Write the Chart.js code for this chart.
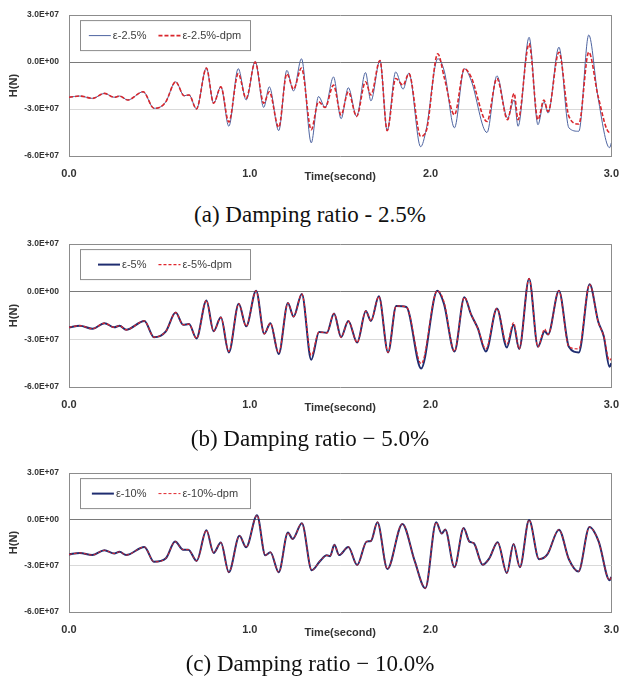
<!DOCTYPE html>
<html>
<head>
<meta charset="utf-8">
<script src="https://cdn.jsdelivr.net/npm/chart.js@4"></script>
<style>
  html, body { margin: 0; padding: 0; background: #fff; }
  body { width: 620px; height: 680px; position: relative; overflow: hidden; }
  .box { position: absolute; left: 0; width: 630px; }
  .cap { position: absolute; left: 0; width: 620px; text-align: center;
         font-family: "Liberation Serif", "Times New Roman", serif; font-size: 23px; color: #111; line-height: 1; }
</style>
</head>
<body>
<div class="box" style="top:0px;height:200px"><canvas id="c1"></canvas></div>
<div class="cap" style="top:203px">(a) Damping ratio - 2.5%</div>
<div class="box" style="top:229px;height:202px"><canvas id="c2"></canvas></div>
<div class="cap" style="top:427px">(b) Damping ratio − 5.0%</div>
<div class="box" style="top:458px;height:198px"><canvas id="c3"></canvas></div>
<div class="cap" style="top:652px">(c) Damping ratio − 10.0%</div>
<script>
// values in 1E+07 N
var yTicks = [-6, -3, 0, 3];
var yTickLabels = ['-6.0E+07', '-3.0E+07', '0.0E+00', '3.0E+07'];
var xTicks = [0, 1, 2, 3];
var xTickLabels = ['0.0', '1.0', '2.0', '3.0'];

// (a) 2.5%
var t1 = [0, 0.06, 0.13, 0.196, 0.25, 0.28, 0.325, 0.41, 0.47, 0.50, 0.536, 0.59, 0.637, 0.664, 0.705,
  0.76, 0.80, 0.84, 0.884, 0.936, 0.98, 1.03, 1.077, 1.108, 1.16, 1.205, 1.242, 1.286, 1.34, 1.38,
  1.417, 1.463, 1.505, 1.545, 1.591, 1.64, 1.67, 1.72, 1.76, 1.807, 1.848, 1.88, 1.945, 1.976, 2.04,
  2.077, 2.132, 2.187, 2.224, 2.312, 2.367, 2.426, 2.462, 2.484, 2.545, 2.594, 2.627, 2.65, 2.71,
  2.765, 2.82, 2.875, 2.927, 2.99, 3.0];
var blue1 = [-2.25, -2.17, -2.32, -2.0, -2.25, -2.17, -2.42, -1.9, -2.95, -2.9, -2.53, -1.26, -2.15, -2.1, -2.99,
  -0.38, -2.63, -1.58, -4.1, -0.42, -2.42, 0.04, -2.9, -1.58, -4.38, -0.53, -1.85, 0.21, -5.16, -2.2,
  -2.9, -0.95, -3.62, -1.64, -3.47, -0.67, -2.48, 0.1, -4.38, -0.63, -1.73, -0.7, -5.41, -4.3, 0.21,
  -0.63, -4.2, -0.42, -1.16, -4.5, -0.88, -3.58, -2.42, -4.1, 1.58, -4.0, -2.53, -3.26, 0.95,
  -4.2, -4.42, 1.73, -2.32, -5.47, -5.16];
var red1 = [-2.25, -2.17, -2.32, -2.0, -2.25, -2.17, -2.42, -1.9, -2.95, -2.9, -2.53, -1.26, -2.15, -2.1, -2.99,
  -0.38, -2.63, -1.58, -3.83, -0.74, -2.32, 0.0, -2.63, -1.9, -4.17, -0.74, -1.73, -0.38, -4.32, -2.53,
  -2.9, -1.47, -3.37, -1.9, -3.47, -1.26, -2.1, 0.1, -4.38, -1.05, -1.47, -0.74, -4.74, -4.4, 0.53,
  -1.05, -3.37, -0.42, -0.95, -3.8, -1.05, -3.68, -2.0, -3.68, 1.16, -3.68, -2.42, -3.16, 0.63,
  -3.47, -3.96, 0.63, -2.2, -4.5, -4.5];

// (b) 5%
var t2 = [0, 0.06, 0.13, 0.196, 0.25, 0.28, 0.316, 0.417, 0.47, 0.536, 0.59, 0.631, 0.664, 0.705, 0.76,
  0.80, 0.84, 0.884, 0.939, 0.98, 1.035, 1.08, 1.114, 1.16, 1.211, 1.242, 1.288, 1.34, 1.383, 1.426,
  1.466, 1.505, 1.545, 1.594, 1.642, 1.67, 1.714, 1.765, 1.81, 1.866, 1.948, 2.037, 2.074, 2.132,
  2.187, 2.224, 2.261, 2.306, 2.367, 2.422, 2.459, 2.49, 2.545, 2.594, 2.631, 2.65, 2.71, 2.765,
  2.82, 2.88, 2.927, 2.958, 2.99, 3.0];
var blue2 = [-2.24, -2.14, -2.33, -1.98, -2.24, -2.14, -2.4, -1.84, -2.86, -2.49, -1.31, -2.08, -2.04, -2.94, -0.55,
  -2.49, -1.61, -3.82, -0.76, -2.18, 0.06, -2.65, -1.98, -3.92, -0.71, -1.57, -0.14, -4.29, -2.53, -2.59,
  -1.37, -2.86, -1.84, -3.2, -1.22, -1.84, -0.29, -3.82, -0.9, -0.96, -4.84, 0.06, -0.76, -3.76,
  -0.35, -1.43, -2.29, -3.76, -1.06, -3.51, -2.08, -3.61, 0.82, -3.47, -2.49, -2.69, 0.06, -3.47,
  -3.82, 0.47, -1.88, -2.8, -4.73, -4.5];
var red2 = [-2.24, -2.14, -2.33, -1.98, -2.24, -2.14, -2.4, -1.84, -2.86, -2.49, -1.31, -2.08, -2.04, -2.94, -0.55,
  -2.49, -1.61, -3.75, -0.76, -2.18, 0.06, -2.65, -1.98, -3.85, -0.71, -1.57, -0.14, -4.02, -2.53, -2.59,
  -1.37, -2.86, -1.84, -3.2, -1.22, -1.84, -0.29, -3.82, -0.9, -0.96, -4.53, 0.06, -0.62, -3.76,
  -0.35, -1.43, -2.29, -3.6, -1.06, -3.3, -1.95, -3.61, 0.82, -3.47, -2.35, -2.69, 0.06, -3.47,
  -3.6, 0.47, -1.88, -2.8, -4.33, -4.2];

// (c) 10%
var t3 = [0, 0.06, 0.128, 0.196, 0.25, 0.28, 0.316, 0.417, 0.47, 0.536, 0.587, 0.631, 0.66, 0.706, 0.76,
  0.80, 0.84, 0.884, 0.943, 0.98, 1.04, 1.086, 1.114, 1.16, 1.211, 1.237, 1.288, 1.343, 1.389, 1.426,
  1.444, 1.468, 1.494, 1.545, 1.594, 1.646, 1.67, 1.706, 1.761, 1.844, 1.912, 1.971, 2.031, 2.062,
  2.081, 2.132, 2.183, 2.215, 2.239, 2.288, 2.325, 2.371, 2.422, 2.459, 2.494, 2.545, 2.6, 2.646,
  2.71, 2.765, 2.818, 2.879, 2.93, 2.99, 3.0];
var blue3 = [-2.27, -2.17, -2.31, -2.0, -2.21, -2.1, -2.31, -1.79, -2.75, -2.52, -1.44, -1.96, -1.96, -2.69, -0.71,
  -2.17, -1.5, -3.42, -1.06, -1.81, 0.27, -2.33, -2.13, -3.42, -0.85, -1.27, -0.25, -3.3, -2.69, -2.33,
  -2.38, -1.65, -2.31, -1.79, -2.96, -1.44, -1.4, -0.19, -3.21, -0.29, -2.69, -4.46, -0.19, -0.92,
  -0.65, -3.1, -0.56, -1.44, -1.54, -2.94, -2.52, -1.48, -3.48, -1.6, -3.1, -0.04, -2.58, -2.27,
  -0.67, -2.58, -3.38, -0.5, -1.44, -3.94, -3.73];
var red3 = blue3.slice();

function pts(t, v) {
  return t.map(function (x, i) { return { x: x, y: v[i] * 1e7 }; });
}

var legendPlugin = {
  id: 'boxLegend',
  afterDraw: function (chart) {
    var o = chart.options.plugins.boxLegend;
    if (!o) return;
    var ctx = chart.ctx, a = chart.chartArea;
    var bx = a.left + 11, by = a.top + 5, bw = 170, bh = 30;
    ctx.save();
    ctx.fillStyle = '#fff';
    ctx.fillRect(bx, by, bw, bh);
    ctx.strokeStyle = '#8c8c8c';
    ctx.lineWidth = 1;
    ctx.strokeRect(bx + 0.5, by + 0.5, bw, bh);
    ctx.font = '11px "Liberation Sans", Arial, sans-serif';
    ctx.textBaseline = 'middle';
    var sw = 22, gap = 2, sp = 12;
    var ds = chart.data.datasets;
    var w = 0;
    ds.forEach(function (d, i) { w += sw + gap + ctx.measureText(d.label).width + (i ? sp : 0); });
    var x = bx + (bw - w) / 2, y = by + bh / 2 + 0.5;
    ds.forEach(function (d, i) {
      if (i) x += sp;
      ctx.beginPath();
      ctx.strokeStyle = d.borderColor;
      ctx.lineWidth = d.borderWidth;
      ctx.setLineDash(d.borderDash || []);
      ctx.moveTo(x, y);
      ctx.lineTo(x + sw, y);
      ctx.stroke();
      ctx.setLineDash([]);
      x += sw + gap;
      ctx.fillStyle = '#404040';
      ctx.fillText(d.label, x, y);
      x += ctx.measureText(d.label).width;
    });
    ctx.restore();
  }
};

var frame = '#8c8c8c';

function makeChart(id, t, b, r, names, bStyle, rStyle, bottomPad) {
  var ctx = document.getElementById(id).getContext('2d');
  return new Chart(ctx, {
    type: 'line',
    data: {
      datasets: [{
        label: names[0],
        data: pts(t, b),
        borderColor: bStyle.color,
        borderWidth: bStyle.width,
        pointRadius: 0,
        cubicInterpolationMode: 'monotone',
        fill: false,
        order: 1
      }, {
        label: names[1],
        data: pts(t, r),
        borderColor: rStyle.color,
        borderWidth: rStyle.width,
        borderDash: rStyle.dash,
        pointRadius: 0,
        cubicInterpolationMode: 'monotone',
        fill: false,
        order: 0
      }]
    },
    options: {
      responsive: true,
      maintainAspectRatio: false,
      animation: false,
      layout: { padding: { left: 0, right: 16, top: 12, bottom: 0 } },
      plugins: {
        legend: { display: false },
        tooltip: { enabled: false },
        boxLegend: true
      },
      scales: {
        x: {
          type: 'linear',
          min: 0, max: 3,
          afterBuildTicks: function (s) { s.ticks = xTicks.map(function (v) { return { value: v }; }); },
          afterFit: function (s) { s.height = 44; },
          ticks: {
            padding: 11,
            autoSkip: false,
            maxRotation: 0,
            color: '#333',
            font: { family: '"Liberation Sans", Arial, sans-serif', size: 11, weight: 'bold' },
            callback: function (v) { return xTickLabels[xTicks.indexOf(v)]; }
          },
          grid: {
            drawTicks: false,
            color: function (c) { return c.tick && c.tick.value === 3 ? frame : 'rgba(0,0,0,0)'; }
          },
          border: { color: frame },
          title: {
            display: true,
            text: 'Time(second)',
            color: '#333',
            font: { family: '"Liberation Sans", Arial, sans-serif', size: 11, weight: 'bold', lineHeight: 1 },
            padding: { top: 0, bottom: bottomPad }
          }
        },
        y: {
          min: -6e7, max: 3e7,
          afterBuildTicks: function (s) { s.ticks = yTicks.map(function (v) { return { value: v * 1e7 }; }); },
          afterFit: function (s) { s.width = 69; },
          ticks: {
            padding: 10,
            color: '#333',
            font: { family: '"Liberation Sans", Arial, sans-serif', size: 8.5, weight: 'bold' },
            callback: function (v) { return yTickLabels[yTicks.indexOf(Math.round(v / 1e7))]; }
          },
          grid: {
            drawTicks: false,
            color: function (c) {
              var v = c.tick ? Math.round(c.tick.value / 1e7) : null;
              if (v === 0) return '#7a7a7a';
              if (v === -3) return '#d9d9d9';
              if (v === 3) return frame;
              return 'rgba(0,0,0,0)';
            }
          },
          border: { color: frame },
          title: {
            display: true,
            text: 'H(N)',
            color: '#333',
            font: { family: '"Liberation Sans", Arial, sans-serif', size: 11, weight: 'bold', lineHeight: 1 },
            padding: { top: 8.5, bottom: 0 }
          }
        }
      }
    },
    plugins: [legendPlugin]
  });
}

makeChart('c1', t1, blue1, red1, ['ε-2.5%', 'ε-2.5%-dpm'],
  { color: '#4e64a0', width: 1 }, { color: '#d9262c', width: 1.6, dash: [4, 2] }, 17.5);
makeChart('c2', t2, blue2, red2, ['ε-5%', 'ε-5%-dpm'],
  { color: '#1f2d70', width: 2 }, { color: '#e0252c', width: 1.2, dash: [3, 2] }, 17.5);
makeChart('c3', t3, blue3, red3, ['ε-10%', 'ε-10%-dpm'],
  { color: '#1f2d70', width: 2 }, { color: '#e0252c', width: 1, dash: [3, 2] }, 17.5);
</script>
</body>
</html>
